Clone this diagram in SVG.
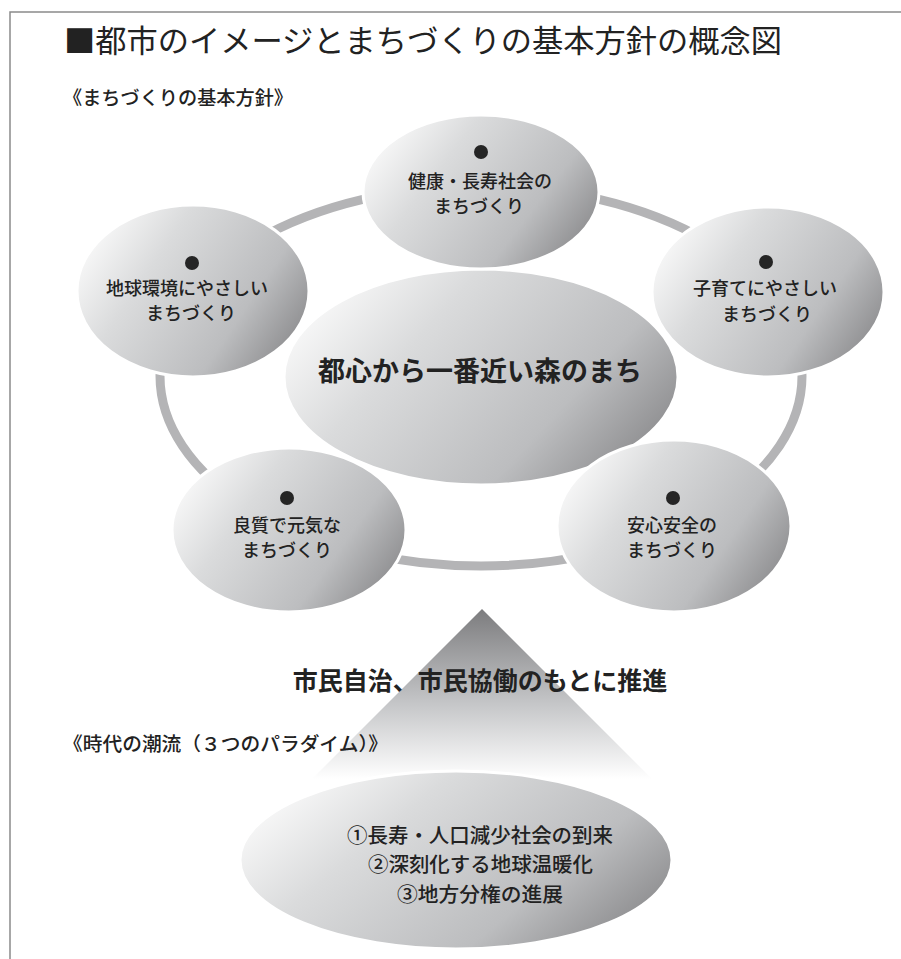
<svg xmlns="http://www.w3.org/2000/svg" width="901" height="959" viewBox="0 0 901 959">
<style>
text{font-family:"Noto Sans CJK JP","Noto Sans CJK SC",sans-serif;fill:#222;}
.title{font-size:31px;}
.head{font-size:19px;font-weight:500;}
.node{font-size:18px;font-weight:500;text-anchor:middle;}
.center{font-size:27px;font-weight:700;text-anchor:middle;}
.promo{font-size:25px;font-weight:700;text-anchor:middle;}
.para{font-size:20px;font-weight:500;}
.blob{stroke:#ffffff;stroke-width:3;fill:url(#g);}
.dot{fill:#252525;}
</style>
<defs>
<linearGradient id="g" x1="0" y1="0.25" x2="1" y2="0.75">
<stop offset="0" stop-color="#fbfbfb"/>
<stop offset="0.3" stop-color="#dadbdc"/>
<stop offset="0.72" stop-color="#bcbdbf"/>
<stop offset="1" stop-color="#8a8a8c"/>
</linearGradient>
<linearGradient id="tri" x1="0" y1="0" x2="0" y2="1">
<stop offset="0" stop-color="#7c7c7e"/>
<stop offset="0.55" stop-color="#c4c5c7"/>
<stop offset="1" stop-color="#ffffff"/>
</linearGradient>
</defs>
<rect x="0" y="0" width="901" height="959" fill="#ffffff"/>
<rect x="10" y="12" width="900" height="960" fill="#ffffff" stroke="#8a8a8a" stroke-width="1.5"/>
<text class="title" x="64" y="52" textLength="718" lengthAdjust="spacingAndGlyphs">■都市のイメージとまちづくりの基本方針の概念図</text>
<text class="head" x="63" y="105" textLength="230" lengthAdjust="spacingAndGlyphs">《まちづくりの基本方針》</text>
<g id="connectors">
<ellipse cx="481" cy="376" rx="321" ry="190" fill="none" stroke="#b4b4b6" stroke-width="9"/>
</g>
<g id="center">
<ellipse class="blob" cx="481" cy="377" rx="197" ry="108"/>
<text class="center" x="480" y="381">都心から一番近い森のまち</text>
</g>
<g id="top">
<ellipse class="blob" cx="481" cy="192" rx="118" ry="77"/>
<circle class="dot" cx="481" cy="152" r="7"/>
<text class="node" x="480" y="188">健康・長寿社会の</text>
<text class="node" x="479" y="213">まちづくり</text>
</g>
<g id="left">
<ellipse class="blob" cx="193" cy="291" rx="116" ry="86"/>
<circle class="dot" cx="192" cy="263" r="7"/>
<text class="node" x="187" y="295">地球環境にやさしい</text>
<text class="node" x="191" y="320">まちづくり</text>
</g>
<g id="right">
<ellipse class="blob" cx="768" cy="292" rx="116" ry="85"/>
<circle class="dot" cx="766" cy="262" r="7"/>
<text class="node" x="765" y="295">子育てにやさしい</text>
<text class="node" x="767" y="321">まちづくり</text>
</g>
<g id="bottomleft">
<ellipse class="blob" cx="289" cy="530" rx="117" ry="82"/>
<circle class="dot" cx="287" cy="498" r="7"/>
<text class="node" x="287" y="532">良質で元気な</text>
<text class="node" x="287" y="557">まちづくり</text>
</g>
<g id="bottomright">
<ellipse class="blob" cx="674" cy="526" rx="117" ry="86"/>
<circle class="dot" cx="673" cy="498" r="7"/>
<text class="node" x="672" y="532">安心安全の</text>
<text class="node" x="672" y="557">まちづくり</text>
</g>
<g id="triangle">
<polygon points="482,609 312,779 652,779" fill="url(#tri)"/>
<text class="promo" x="480" y="690">市民自治、市民協働のもとに推進</text>
</g>
<text class="head" x="63" y="751" textLength="325" lengthAdjust="spacingAndGlyphs">《時代の潮流（３つのパラダイム）》</text>
<g id="paradigm">
<ellipse class="blob" cx="456" cy="860" rx="216" ry="89"/>
<text class="para" x="347" y="843" textLength="266" lengthAdjust="spacingAndGlyphs">①長寿・人口減少社会の到来</text>
<text class="para" x="368" y="872" textLength="225" lengthAdjust="spacingAndGlyphs">②深刻化する地球温暖化</text>
<text class="para" x="397" y="902" textLength="166" lengthAdjust="spacingAndGlyphs">③地方分権の進展</text>
</g>
</svg>
